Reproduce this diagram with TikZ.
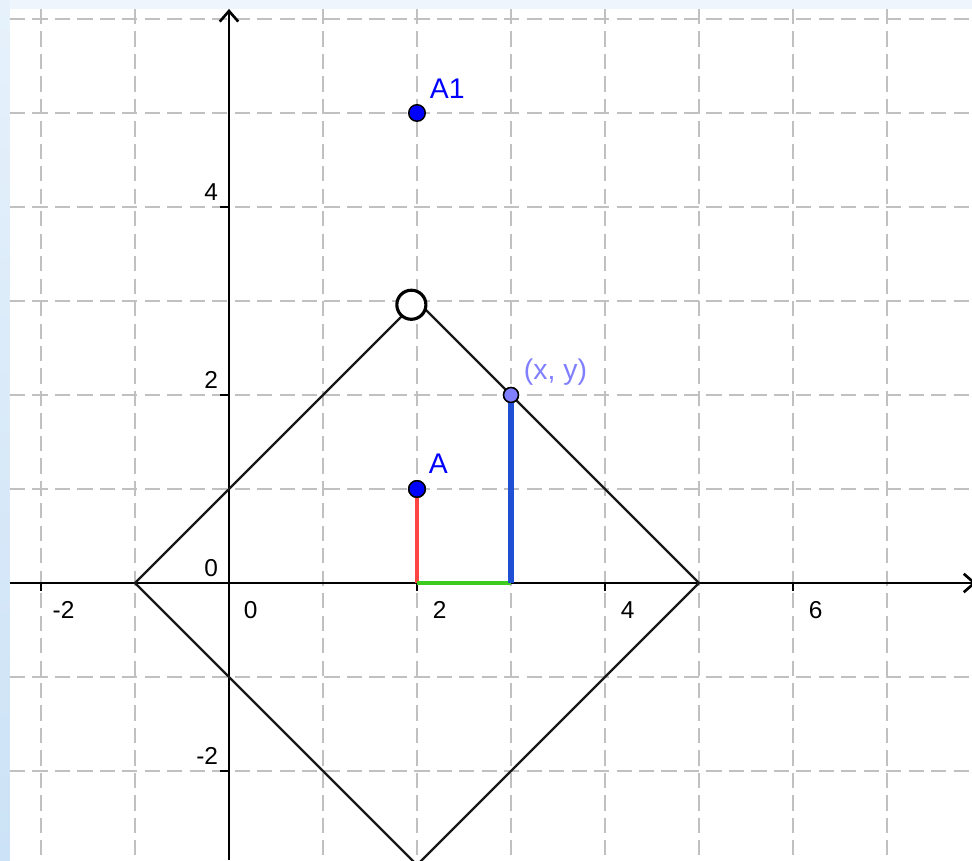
\documentclass[tikz,border=0pt]{standalone}
\usepackage{fontspec}
\setmainfont{Liberation Sans}
\usetikzlibrary{arrows.meta}
\definecolor{GGBlue}{HTML}{0000FF}
\definecolor{GGLight}{HTML}{7F7FFF}
\definecolor{GGGrid}{HTML}{C0C0C0}
\definecolor{GGRed}{HTML}{FF4444}
\definecolor{GGGreen}{HTML}{3CCB1E}
\definecolor{GGSeg}{HTML}{1F4FD2}
\definecolor{GGEdgeA}{HTML}{E6F1FB}
\definecolor{GGEdgeB}{HTML}{CCE2F6}
\definecolor{GGTop}{HTML}{EEF5FC}

\tikzset{
  gridline/.style={GGGrid, line width=0.5pt, dash pattern=on 4.6pt off 2.2pt},
  axisline/.style={black, line width=0.8pt},
  ticklabel/.style={font=\fontsize{7.4}{8}\selectfont, inner sep=0pt},
  ptlabel/.style={font=\fontsize{8.6}{10}\selectfont, inner sep=0pt},
  dot/.style={circle, draw=black, line width=0.45pt, inner sep=0pt, minimum size=5pt},
}

\begin{document}
\begin{tikzpicture}
  \clip (-2.436,-2.947) rectangle (7.904,6.202);
  % background and window edges
  \fill[white] (-2.436,-2.947) rectangle (7.904,6.202);
  \shade[top color=GGEdgeA, bottom color=GGEdgeB] (-2.436,-2.947) rectangle (-2.33,6.202);
  \fill[GGTop] (-2.33,6.106) rectangle (7.904,6.202);

  % grid
  \foreach \x in {-2,...,7}
    \draw[gridline] (\x,6.106) -- (\x,-2.947);
  \foreach \y in {-2,...,6}
    \draw[gridline] (-2.33,\y) -- (7.904,\y);

  % axes
  \draw[axisline, -{Straight Barb[length=3.2pt,width=5.6pt]}] (-2.33,0) -- (7.95,0);
  \draw[axisline, -{Straight Barb[length=3.2pt,width=5.6pt]}] (0,-2.947) -- (0,6.106);
  \foreach \x in {-2,2,4,6} {
    \draw[axisline] (\x,0) -- (\x,-0.09);
    \node[ticklabel, anchor=base] at (\x+0.24,-0.38) {\x};
  }
  \node[ticklabel, anchor=base] at (0.23,-0.38) {0};
  \foreach \y in {-2,2,4}
    \draw[axisline] (0,\y) -- (-0.1,\y);
  \foreach \y in {-2,0,2,4}
    \node[ticklabel, anchor=base east] at (-0.11,\y+0.07) {\y};

  % the square |x-2|+|y| = 3
  \coordinate (W) at (-1,0);
  \coordinate (N) at (2,3);
  \coordinate (E) at (5,0);
  \coordinate (S) at (2,-3);
  \draw[line width=0.7pt, black!90] (W) -- (N) -- (E) -- (S) -- cycle;

  % distances
  \coordinate (A0) at (2,0);
  \coordinate (P0) at (3,0);
  \node[dot, fill=GGBlue] (A) at (2,1) {};
  \node[dot, fill=GGLight, minimum size=4.5pt] (P) at (3,2) {};
  \draw[GGRed, line width=1.3pt] (A0) -- (A.center);
  \draw[GGGreen, line width=1.5pt] (A0) -- (P0);
  \draw[GGSeg, line width=1.8pt] (P0) -- (P.center);
  \node[dot, fill=GGBlue] at (A) {};
  \node[dot, fill=GGLight, minimum size=4.5pt] at (P) {};

  \node[dot, fill=GGBlue] (A1) at (2,5) {};
  \node[circle, draw=black, fill=white, line width=0.95pt, inner sep=0pt,
        minimum size=8.8pt] (top) at ([shift={(-0.06,-0.04)}]N) {};

  % labels
  \node[ptlabel, anchor=base west, text=GGBlue] (labA1) at (2.13,5.15) {A1};
  \node[ptlabel, anchor=base west, text=GGBlue] (labA) at (2.12,1.17) {A};
  \node[ptlabel, anchor=base west, text=GGLight] (labP) at (3.13,2.16) {(x, y)};
\end{tikzpicture}
\end{document}
